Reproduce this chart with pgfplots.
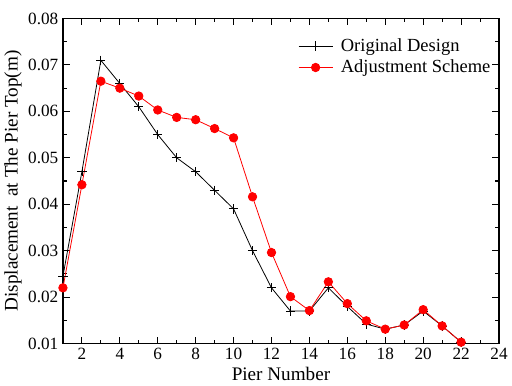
\documentclass[border=0pt]{standalone}
\usepackage{pgfplots}
\pgfplotsset{compat=1.18}
\usepackage{fontspec}
\setmainfont{Liberation Serif}
\begin{document}
\begin{tikzpicture}
\begin{axis}[
  scale only axis,
  width=330pt, height=246pt,
  xmin=1, xmax=24, ymin=0.01, ymax=0.08,
  xtick={2,4,...,24},
  minor xtick={1,3,...,23},
  ytick={0.01,0.02,0.03,0.04,0.05,0.06,0.07,0.08},
  minor ytick={0.015,0.025,0.035,0.045,0.055,0.065,0.075},
  scaled y ticks=false,
  yticklabel style={/pgf/number format/fixed,/pgf/number format/precision=2,/pgf/number format/fixed zerofill},
  /pgf/number format/assume math mode=true,
  tick align=inside,
  major tick length=5pt, minor tick length=3pt,
  every tick/.style={black, line width=0.8pt},
  axis line style={line width=1pt},
  ticklabel style={font=\fontsize{13}{15}\selectfont},
  label style={font=\fontsize{14.5}{16}\selectfont},
  xlabel={Pier Number},
  ylabel={Displacement\ \ at The Pier Top(m)},
  xlabel style={yshift=1pt},
  ylabel style={yshift=-2pt},
  legend image code/.code={\draw[mark repeat=2,mark phase=2] plot coordinates {(0cm,0cm) (0.45cm,0cm) (0.9cm,0cm)};},
  legend style={draw=none, fill=none, at={(0.53,0.955)}, anchor=north west, font=\fontsize{14}{16}\selectfont, row sep=1pt},
  legend cell align=left,
]
\addplot[black, line width=0.6pt, mark=+, mark size=3.5pt, mark options={line width=0.6pt}] coordinates {
(1,0.0245) (2,0.047) (3,0.071) (4,0.066) (5,0.061) (6,0.055) (7,0.050) (8,0.047) (9,0.043) (10,0.039) (11,0.030) (12,0.022) (13,0.017) (14,0.017) (15,0.022) (16,0.018) (17,0.0142) (18,0.0131) (19,0.0140) (20,0.0170) (21,0.0138) (22,0.0103)
};
\addlegendentry{\hspace*{4pt}Original Design}
\addplot[red, line width=0.6pt, mark=*, mark size=3.2pt, mark options={fill=red, draw=red}] coordinates {
(1,0.022) (2,0.0442) (3,0.0665) (4,0.0650) (5,0.0633) (6,0.0603) (7,0.0587) (8,0.0582) (9,0.0563) (10,0.0543) (11,0.0416) (12,0.0296) (13,0.0201) (14,0.0171) (15,0.0233) (16,0.0186) (17,0.0149) (18,0.0131) (19,0.0140) (20,0.0173) (21,0.0138) (22,0.0103)
};
\addlegendentry{\hspace*{4pt}Adjustment Scheme}
\end{axis}
\path (current axis.north) ++(0,14pt);
\end{tikzpicture}
\end{document}
